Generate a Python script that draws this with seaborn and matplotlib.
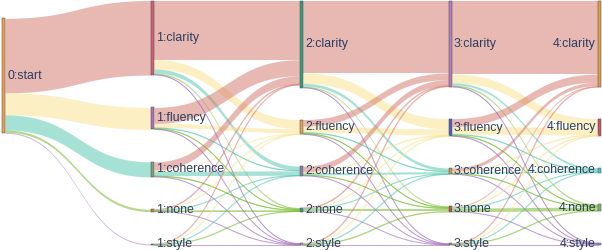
import numpy as np
import matplotlib.pyplot as plt
import seaborn as sns
from matplotlib.patches import Rectangle

sns.set_theme(style="white")
plt.rcParams['font.family'] = ['Liberation Sans', 'DejaVu Sans']

# 数据：每一步各类别的流量
steps = ['0', '1', '2', '3', '4']
cats = ['clarity', 'fluency', 'coherence', 'none', 'style']

start_out = [648, 192, 131, 20, 9]
flow_1_2 = [[515, 80, 35, 12, 6],
            [140, 35, 7, 6, 4],
            [72, 10, 38, 8, 3],
            [5, 3, 3, 7, 2],
            [2, 2, 2, 2, 1]]
flow_2_3 = [[630, 90, 25, 10, 5],
            [58, 52, 8, 8, 4],
            [52, 6, 18, 6, 3],
            [5, 3, 2, 24, 1],
            [4, 4, 3, 4, 1]]
flow_3_4 = [[640, 75, 18, 13, 7],
            [70, 65, 7, 8, 5],
            [30, 5, 12, 6, 3],
            [10, 5, 3, 31, 3],
            [3, 3, 2, 3, 3]]

link_colors = ['#d37369', '#f9e189', '#4dc5ad', '#69b519', '#9b69b9']
node_colors = [['#f0a050'],
               ['#d0607a', '#b070c0', '#80a080', '#d08040', '#9080b0'],
               ['#30a080', '#e8a050', '#9080b0', '#4090b0', '#a0a0a0'],
               ['#b080c0', '#5060c0', '#d09050', '#c05050', '#9090a0'],
               ['#e0a040', '#d05070', '#50c0e0', '#90a890', '#a0a0b0']]

# 布局参数
W, H = 602, 250
col_x = np.linspace(2, 598, 5)
node_w = 3
y_top, y_bot = 0.5, 245
ky = 0.115

mats = [np.array([start_out])] + [np.array(m) for m in (flow_1_2, flow_2_3, flow_3_4)]
# 节点大小 = max(流入, 流出)
values = [np.array([sum(start_out)])]
for k, m in enumerate(mats):
    inflow = m.sum(axis=0)
    outflow = mats[k + 1].sum(axis=1) if k + 1 < len(mats) else inflow
    values.append(np.maximum(inflow, outflow))

node_y = [None] * 5
for c in range(1, 5):
    h = values[c] * ky
    gap = (y_bot - y_top - h.sum()) / (len(h) - 1)
    tops = y_top + np.concatenate([[0], np.cumsum(h[:-1] + gap)])
    node_y[c] = np.column_stack([tops, tops + h])
centers1 = node_y[1].mean(axis=1)
c0 = np.dot(start_out, centers1) / sum(start_out)
h0 = values[0][0] * ky
node_y[0] = np.array([[c0 - h0 / 2, c0 + h0 / 2]])

fig = plt.figure(figsize=(W / 100, H / 100), dpi=100)
ax = fig.add_axes([0, 0, 1, 1])
ax.set_xlim(0, W)
ax.set_ylim(H, 0)
ax.axis('off')

t = np.linspace(0, 1, 80)
for k, m in enumerate(mats):
    x0 = col_x[k] + node_w
    x1 = col_x[k + 1]
    xm = (x0 + x1) / 2
    xs = (1 - t) ** 3 * x0 + 3 * (1 - t) ** 2 * t * xm + 3 * (1 - t) * t ** 2 * xm + t ** 3 * x1
    s = 3 * t ** 2 - 2 * t ** 3
    src_off = node_y[k][:, 0].copy()
    tgt_off = node_y[k + 1][:, 0].copy()
    # 目标端按来源顺序堆叠
    tgt_pos = {}
    for j in range(m.shape[1]):
        for i in range(m.shape[0]):
            tgt_pos[(i, j)] = tgt_off[j]
            tgt_off[j] += m[i, j] * ky
    for i in range(m.shape[0]):
        for j in range(m.shape[1]):
            w = m[i, j] * ky
            if w <= 0:
                continue
            sy = src_off[i]
            ty = tgt_pos[(i, j)]
            src_off[i] += w
            top = sy + (ty - sy) * s
            col = link_colors[j]
            ax.fill_between(xs, top, top + w, color=col, alpha=0.5, lw=0)
            if w < 1.0:
                ax.plot(xs, top + w / 2, color=col, alpha=0.6, lw=0.7)

for c in range(5):
    for n, (y0, y1) in enumerate(node_y[c]):
        ax.add_patch(Rectangle((col_x[c], y0), node_w, max(y1 - y0, 0.8),
                               facecolor=node_colors[c][n], edgecolor='#444444', lw=0.35))
        label = f'{steps[c]}:start' if c == 0 else f'{steps[c]}:{cats[n]}'
        yc = (y0 + y1) / 2
        if c < 4:
            ax.text(col_x[c] + node_w + 2, yc, label, ha='left', va='center',
                    fontsize=8.9, color='#2a3f5f')
        else:
            ax.text(col_x[c] - 2, yc, label, ha='right', va='center',
                    fontsize=8.9, color='#2a3f5f')

plt.savefig('out.png', dpi=100)
